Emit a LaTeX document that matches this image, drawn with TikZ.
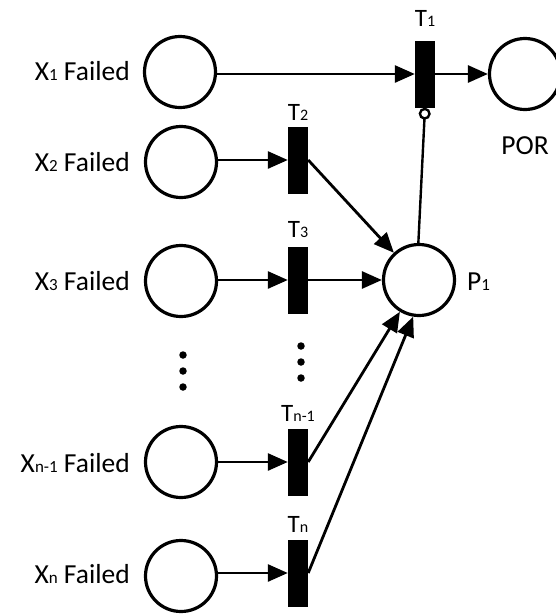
\documentclass[tikz,border=0pt]{standalone}
\usepackage{fontspec}
\setmainfont{Carlito}
\usetikzlibrary{arrows.meta}
\newcommand{\sbx}[1]{{\fontsize{17}{17}\selectfont #1}}
\newcommand{\sbt}[1]{{\fontsize{16}{16}\selectfont #1}}
\begin{document}
\begin{tikzpicture}[x=1pt,y=-1pt,
 place/.style={circle,draw,line width=3.2pt,minimum size=71pt,inner sep=0pt},
 trans/.style={rectangle,fill=black,minimum width=20pt,minimum height=67pt,inner sep=0pt},
 plabel/.style={font=\fontsize{27.5}{27.5}\selectfont,inner sep=0pt},
 tlabel/.style={font=\fontsize{25}{25}\selectfont,inner sep=0pt,anchor=base},
 arc/.style={line width=2.8pt,-{Triangle[length=20pt,width=17pt]}},
 inhib/.style={line width=2.4pt,-{Circle[open,length=12pt,width=12pt,line width=2.4pt]}},
 dotn/.style={circle,fill=black,minimum size=7.5pt,inner sep=0pt}]
\useasboundingbox (0,0) rectangle (556,614);
% places
\node[place] (x1) at (180,72) {};
\node[place] (x2) at (181,162) {};
\node[place] (x3) at (181,281) {};
\node[place] (xn1) at (181,462) {};
\node[place] (xn) at (181,576) {};
\node[place] (por) at (525,74) {};
\node[place] (p1) at (419,280) {};
% transitions
\node[trans] (t1) at (425,74) {};
\node[trans] (t2) at (298,160) {};
\node[trans] (t3) at (298,280) {};
\node[trans] (tn1) at (298,462) {};
\node[trans] (tn) at (298,573) {};
% place labels
\node[plabel,anchor=base east] (lx1) at (130,80) {X\sbx{1} Failed};
\node[plabel,anchor=base east] (lx2) at (130,171) {X\sbx{2} Failed};
\node[plabel,anchor=base east] (lx3) at (130,290) {X\sbx{3} Failed};
\node[plabel,anchor=base east] (lxn1) at (130,472) {X\sbx{n-1} Failed};
\node[plabel,anchor=base east] (lxn) at (130,583) {X\sbx{n} Failed};
\node[plabel,anchor=base] (lpor) at (525,154) {POR};
\node[plabel,anchor=base west] (lp1) at (467,290) {P\sbx{1}};
% transition labels
\node[tlabel] (lt1) at (425,26) {T\sbt{1}};
\node[tlabel] (lt2) at (298,120) {T\sbt{2}};
\node[tlabel] (lt3) at (298,237) {T\sbt{3}};
\node[tlabel] (ltn1) at (298,421) {T\sbt{n-1}};
\node[tlabel] (ltn) at (298,532) {T\sbt{n}};
% dots
\node[dotn] (d1) at (183,355) {};
\node[dotn] (d2) at (183,371) {};
\node[dotn] (d3) at (183,387) {};
\node[dotn] (e1) at (301,346) {};
\node[dotn] (e2) at (301,362) {};
\node[dotn] (e3) at (301,378) {};
% arcs
\draw[arc] (x1.east |- t1) -- (t1.west);
\draw[arc] (t1.east) -- (por.west |- t1);
\draw[arc] (x2.east |- t2) -- (t2.west);
\draw[arc] (x3.east |- t3) -- (t3.west);
\draw[arc] (xn1.east |- tn1) -- (tn1.west);
\draw[arc] (xn.east |- tn) -- (tn.west);
\draw[arc] (t2.east) -- (p1);
\draw[arc] (t3.east) -- (p1.west);
\draw[arc] (tn1.east) -- (p1.-121);
\draw[arc] (tn.east) -- (p1.-99);
\draw[inhib] (p1.91) -- (t1.south);
\end{tikzpicture}
\end{document}
